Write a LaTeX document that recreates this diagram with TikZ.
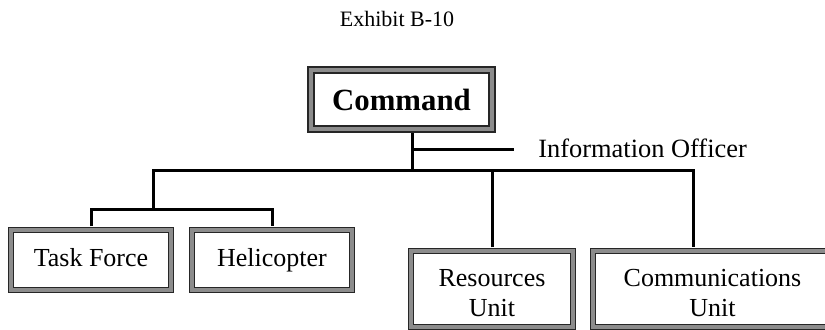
\documentclass[tikz,border=0pt]{standalone}
\usepackage{fontspec}
\setmainfont{Liberation Serif}

\tikzset{
  unitbox/.style={draw=black!85, line width=0.5pt, double=black!45, double distance=1.6pt,
    fill=white, minimum width=80pt, minimum height=30pt, inner sep=0pt, align=center,
    font=\fontsize{13}{15}\selectfont},
  oneline/.style={text height=9.5pt, text depth=3pt},
  twoline/.style={minimum height=38pt, text height=27.5pt, text depth=0pt},
  cmdbox/.style={unitbox, line width=0.7pt, double distance=2.2pt,
    font=\fontsize{15.4}{18}\selectfont\bfseries},
  wire/.style={line width=1.5pt},
  label/.style={inner sep=0pt, font=\fontsize{13.2}{15}\selectfont}
}

\begin{document}
\begin{tikzpicture}[x=0.5pt,y=-0.5pt]
\useasboundingbox (0,0) rectangle (825,330);
\clip (0,0) rectangle (825,330);

% title
\node[inner sep=0pt, font=\fontsize{11}{13}\selectfont] (title) at (397,19) {Exhibit B-10};

% Command box
\node[cmdbox, minimum width=90.5pt, minimum height=29.5pt] (command) at (401.5,99.5) {Command};

% lower boxes
\node[unitbox, oneline] (taskforce) at (91,260) {Task Force};
\node[unitbox, oneline] (heli) at (272,260) {Helicopter};
\node[unitbox, twoline, minimum width=81pt] (res) at (492,289) {Resources\\Unit};
\node[unitbox, twoline, minimum width=119.5pt] (comm) at (712.5,289) {Communications\\Unit};

% trunk and information officer
\coordinate (trunk) at (412,171);
\coordinate (infoend) at (514,150);
\draw[wire] ([yshift=-1.9pt]command.south -| trunk) -- (trunk);
\draw[wire] (infoend -| trunk) -- (infoend);
\node[label, anchor=west] (info) at (538,148) {Information Officer};

% main bus
\coordinate (split) at (153,210);
\coordinate (busright) at (693,171);
\draw[wire] (split) |- (busright) -- ([yshift=1.5pt]comm.north -| busright);
\draw[wire] ([yshift=1.5pt]res.north) -- (res.north |- busright);

% task force and helicopter
\draw[wire] ([yshift=1.5pt]taskforce.north) |- (split) -| ([yshift=1.5pt]heli.north);

\end{tikzpicture}
\end{document}
